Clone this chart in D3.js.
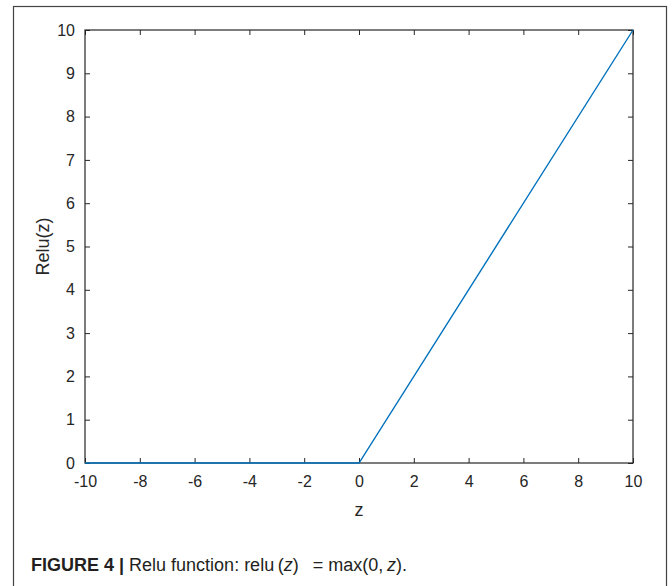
<!DOCTYPE html>
<html>
<head>
<meta charset="utf-8">
<script src="https://cdn.jsdelivr.net/npm/d3@7"></script>
<style>
    body { margin: 0; background: #fff; }
    svg { display: block; font-family: "Liberation Sans", Arial, sans-serif; }
</style>
</head>
<body>
<div id="chart"></div>
<script>
// relu curve sampled at its corners
var zValues = [-10, 0, 10];
var reluValues = [0, 0, 10];
var xTicks = [-10, -8, -6, -4, -2, 0, 2, 4, 6, 8, 10];
var yTicks = [0, 1, 2, 3, 4, 5, 6, 7, 8, 9, 10];

var width = 672, height = 586;
var margin = { top: 30, right: 39, bottom: 123, left: 85 };
var w = width - margin.left - margin.right;
var h = height - margin.top - margin.bottom;

var svgContainer = d3.select("#chart").append("svg")
    .attr("width", width)
    .attr("height", height);

// outer frame of the figure
svgContainer.append("rect")
    .attr("x", 13.5)
    .attr("y", 6.5)
    .attr("width", 653)
    .attr("height", 600)
    .attr("fill", "none")
    .attr("stroke", "#444")
    .attr("stroke-width", 1.2);

var svg = svgContainer.append("g")
    .attr("transform", "translate(" + margin.left + "," + margin.top + ")");

var x = d3.scaleLinear().domain([-10, 10]).range([0, w]);
var y = d3.scaleLinear().domain([0, 10]).range([h, 0]);

var tickColor = "#262626";
var fmt = function(d) { return String(d); }; // plain hyphen minus like matlab

function styleAxis(g) {
    g.attr("font-size", null).attr("font-family", null);
    g.select(".domain").remove();
    g.selectAll(".tick line").attr("stroke", tickColor).attr("stroke-width", 1);
    g.selectAll(".tick text")
        .attr("fill", tickColor)
        .style("font-size", "16px");
}

// bottom and left axes, ticks pointing inward
svg.append("g")
    .attr("transform", "translate(0," + h + ")")
    .call(d3.axisBottom(x).tickValues(xTicks).tickSize(-5).tickPadding(13).tickFormat(fmt))
    .call(styleAxis);
svg.append("g")
    .call(d3.axisLeft(y).tickValues(yTicks).tickSize(-5).tickPadding(10).tickFormat(fmt))
    .call(styleAxis);
// top and right ticks, no labels
svg.append("g")
    .call(d3.axisTop(x).tickValues(xTicks).tickSize(-5).tickFormat(""))
    .call(styleAxis);
svg.append("g")
    .attr("transform", "translate(" + w + ",0)")
    .call(d3.axisRight(y).tickValues(yTicks).tickSize(-5).tickFormat(""))
    .call(styleAxis);

// box
svg.append("rect")
    .attr("width", w)
    .attr("height", h)
    .attr("fill", "none")
    .attr("stroke", tickColor)
    .attr("stroke-width", 1.2);

var line = d3.line()
    .x(function(d, i) { return x(zValues[i]); })
    .y(function(d) { return y(d); });

svg.append("path")
    .attr("d", line(reluValues))
    .attr("fill", "none")
    .attr("stroke", "#0072BD")
    .attr("stroke-width", 1.4);

// axis labels
svg.append("text")
    .attr("x", w / 2)
    .attr("y", h + 53)
    .attr("text-anchor", "middle")
    .style("font-size", "18px")
    .attr("fill", tickColor)
    .text("z");

svg.append("text")
    .attr("transform", "translate(-36," + h / 2 + ") rotate(-90)")
    .attr("text-anchor", "middle")
    .style("font-size", "18px")
    .attr("fill", tickColor)
    .text("Relu(z)");

// caption
var cap = svgContainer.append("text")
    .attr("x", 31)
    .attr("y", 571)
    .style("font-size", "18px")
    .attr("fill", "#231f20");
cap.append("tspan").attr("font-weight", "bold").text("FIGURE 4 |");
cap.append("tspan").text(" Relu function: relu\u2009(");
cap.append("tspan").attr("font-style", "italic").text("z");
cap.append("tspan").text(")");
cap.append("tspan").attr("dx", 14).text("= max(0,\u2009");
cap.append("tspan").attr("font-style", "italic").text("z");
cap.append("tspan").text(").");
</script>
</body>
</html>
